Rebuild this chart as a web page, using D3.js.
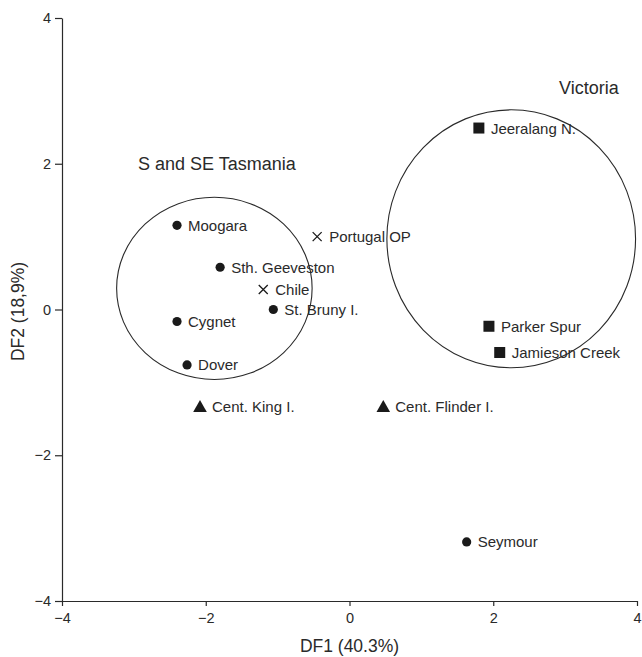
<!DOCTYPE html>
<html>
<head>
<meta charset="utf-8">
<script src="https://cdn.jsdelivr.net/npm/d3@7/dist/d3.min.js"></script>
<style>
  html, body { margin: 0; padding: 0; background: #fff; }
  svg { display: block; }
  text { font-family: "Liberation Sans", Arial, Helvetica, sans-serif; fill: #2a2a2a; }
</style>
</head>
<body>
<svg id="chart" width="642" height="657"></svg>
<script>
// Discriminant function scores (DF1, DF2) per population
const sites = ["Moogara", "Sth. Geeveston", "St. Bruny I.", "Cygnet", "Dover", "Seymour",
               "Chile", "Portugal OP",
               "Jeeralang N.", "Parker Spur", "Jamieson Creek",
               "Cent. King I.", "Cent. Flinder I."];
const df1 = [-2.40, -1.80, -1.06, -2.40, -2.26, 1.63, -1.20, -0.45, 1.80, 1.94, 2.09, -2.08, 0.47];
const df2 = [1.155, 0.58, 0.00, -0.165, -0.76, -3.19, 0.275, 1.00, 2.49, -0.23, -0.59, -1.33, -1.33];
const symbols = ["dot", "dot", "dot", "dot", "dot", "dot", "cross", "cross",
                 "square", "square", "square", "triangle", "triangle"];

// Group outlines: centre (DF1, DF2) and radii in DF units
const groupNames = ["S and SE Tasmania", "Victoria"];
const groupCx = [-1.88, 2.25];
const groupCy = [0.29, 0.97];
const groupRx = [1.36, 1.73];
const groupRy = [1.25, 1.77];

const xTicks = [-4, -2, 0, 2, 4];
const yTicks = [-4, -2, 0, 2, 4];

const svg = d3.select("#chart");
const ink = "#2a2a2a";

const x = d3.scaleLinear().domain([-4, 4]).range([62, 637]);
const y = d3.scaleLinear().domain([-4, 4]).range([601, 18]);

// Axes
const xAxis = svg.append("g").attr("transform", `translate(0,${y(-4)})`)
  .call(d3.axisBottom(x).tickValues(xTicks).tickSize(5).tickSizeOuter(0)
        .tickFormat(d => d < 0 ? "\u2212" + Math.abs(d) : d));
const yAxis = svg.append("g").attr("transform", `translate(${x(-4)},0)`)
  .call(d3.axisLeft(y).tickValues(yTicks).tickSize(7).tickSizeOuter(0)
        .tickFormat(d => d < 0 ? "\u2212" + Math.abs(d) : d));

[xAxis, yAxis].forEach(g => {
  g.select(".domain").attr("stroke", ink).attr("stroke-width", 1.2);
  g.selectAll(".tick line").attr("stroke", ink).attr("stroke-width", 1.2);
  g.selectAll(".tick text").attr("font-size", 14.5).attr("fill", ink)
    .style("font-family", "'Liberation Sans', Arial, sans-serif");
});
xAxis.selectAll(".tick text").attr("y", 12).attr("dy", "0.71em");
yAxis.selectAll(".tick text").attr("x", -11);

// Axis titles
svg.append("text").attr("x", x(0)).attr("y", 652)
  .attr("text-anchor", "middle").attr("font-size", 17.5).text("DF1 (40.3%)");
svg.append("text")
  .attr("transform", `translate(24,${y(0) + 2}) rotate(-90)`)
  .attr("text-anchor", "middle").attr("font-size", 17.5).text("DF2 (18,9%)");

// Group ellipses
svg.append("g").selectAll("ellipse").data(groupNames).join("ellipse")
  .attr("cx", (d, i) => x(groupCx[i]))
  .attr("cy", (d, i) => y(groupCy[i]))
  .attr("rx", (d, i) => x(groupRx[i]) - x(0))
  .attr("ry", (d, i) => y(0) - y(groupRy[i]))
  .attr("fill", "none").attr("stroke", ink).attr("stroke-width", 1.1);

// Group titles
svg.append("text").attr("x", 138).attr("y", 170).attr("font-size", 18).text(groupNames[0]);
svg.append("text").attr("x", 559).attr("y", 94).attr("font-size", 18).text(groupNames[1]);

// Markers
const pts = svg.append("g").selectAll("g").data(sites).join("g")
  .attr("transform", (d, i) => `translate(${x(df1[i])},${y(df2[i])})`);

pts.each(function(d, i) {
  const g = d3.select(this);
  const s = symbols[i];
  if (s === "dot") {
    g.append("circle").attr("r", 4.6).attr("fill", "#1a1a1a");
  } else if (s === "square") {
    g.append("rect").attr("x", -5.5).attr("y", -5.5).attr("width", 11).attr("height", 11).attr("fill", "#1a1a1a");
  } else if (s === "triangle") {
    g.append("path").attr("d", "M0,-6.5L6.8,5.5L-6.8,5.5Z").attr("fill", "#1a1a1a");
  } else {
    g.append("path").attr("d", "M-4.5,-4.5L4.5,4.5M-4.5,4.5L4.5,-4.5")
      .attr("stroke", "#1a1a1a").attr("stroke-width", 1.3).attr("fill", "none");
  }
  g.append("text").attr("x", s === "dot" ? 11 : 12).attr("y", 5.5)
    .attr("font-size", 15).text(d);
});
</script>
</body>
</html>
